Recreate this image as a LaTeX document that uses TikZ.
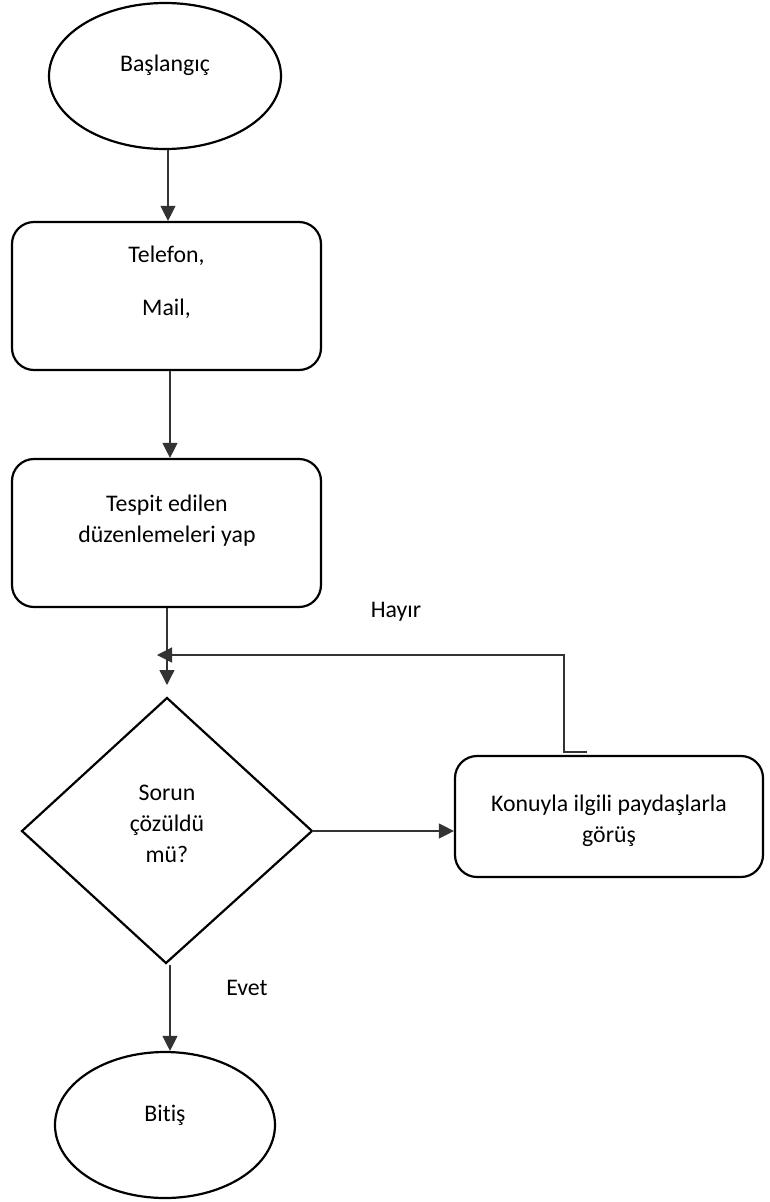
\documentclass[tikz,border=0pt]{standalone}
\usepackage{fontspec}
\setmainfont{Carlito}[Ligatures={NoCommon}]
\usetikzlibrary{shapes.geometric,arrows.meta}
\begin{document}
\begin{tikzpicture}[x=1pt,y=-1pt,
  shapeline/.style={draw=black,line width=2.2pt},
  ellip/.style={shapeline,ellipse,inner sep=0pt},
  rbox/.style={shapeline,rectangle,rounded corners=22pt,inner sep=0pt},
  txt/.style={font=\fontsize{23.8}{31}\selectfont,inner sep=0pt,align=center},
  conn/.style={draw=black!80,line width=1.3pt},
  arr/.style={conn,-{Triangle[length=15pt,width=15pt]}},
]
\useasboundingbox (0,0) rectangle (769,1202);
% shapes
\node[ellip,minimum width=232pt,minimum height=146pt] (start) at (165,76) {};
\node[txt] (starttxt) at (165,65) {Başlangıç};
\node[rbox,minimum width=309pt,minimum height=148pt] (box1) at (166.5,296) {};
\node[txt] (t1a) at (166.5,256) {Telefon,};
\node[txt] (t1b) at (166.5,309) {Mail,};
\node[rbox,minimum width=309pt,minimum height=148pt] (box2) at (166.5,533) {};
\node[txt] (t2) at (167,521) {Tespit edilen\\düzenlemeleri yap};
\coordinate (dtop) at (167,698);
\coordinate (dright) at (312,831);
\coordinate (dbotv) at (166,963);
\coordinate (dleft) at (22,831);
\draw[shapeline,line join=miter] (dtop) -- (dright) -- (dbotv) -- (dleft) -- cycle;
\node[txt] (t3) at (167,824) {Sorun\\çözüldü\\mü?};
\node[rbox,minimum width=308pt,minimum height=121pt] (box3) at (609,816.5) {};
\node[txt] (t4) at (609,821) {Konuyla ilgili paydaşlarla\\görüş};
\node[ellip,minimum width=220pt,minimum height=146pt] (end) at (165,1125) {};
\node[txt] (endtxt) at (165,1115) {Bitiş};
\node[txt] (hayir) at (396,612) {Hayır};
\node[txt] (evet) at (247,988) {Evet};
% connectors
\draw[arr] (start.south -| 168,0) -- (box1.north -| 168,0);
\draw[arr] (box1.south -| 170,0) -- (box2.north -| 170,0);
\coordinate (dtopin) at (167,685);
\draw[arr] (box2.south -| dtopin) -- (dtopin);
\coordinate (f1) at (587,752);
\coordinate (f2) at (564,752);
\coordinate (f3) at (564,655);
\coordinate (f4) at (157,655);
\draw[arr] (f1) -- (f2) -- (f3) -- (f4);
\draw[arr] (dright) -- (dright -| box3.west);
\coordinate (dbot) at (170,965);
\draw[arr] (dbot) -- (end.north -| 170,0);
\end{tikzpicture}
\end{document}
